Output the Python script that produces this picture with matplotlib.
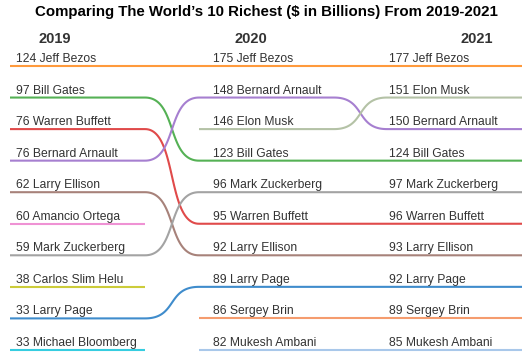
import matplotlib
matplotlib.use("Agg")
import matplotlib.pyplot as plt
import numpy as np

years = ["2019", "2020", "2021"]
names_2019 = ["Jeff Bezos", "Bill Gates", "Warren Buffett", "Bernard Arnault", "Larry Ellison",
              "Amancio Ortega", "Mark Zuckerberg", "Carlos Slim Helu", "Larry Page", "Michael Bloomberg"]
worth_2019 = [124, 97, 76, 76, 62, 60, 59, 38, 33, 33]
names_2020 = ["Jeff Bezos", "Bernard Arnault", "Elon Musk", "Bill Gates", "Mark Zuckerberg",
              "Warren Buffett", "Larry Ellison", "Larry Page", "Sergey Brin", "Mukesh Ambani"]
worth_2020 = [175, 148, 146, 123, 96, 95, 92, 89, 86, 82]
names_2021 = ["Jeff Bezos", "Elon Musk", "Bernard Arnault", "Bill Gates", "Mark Zuckerberg",
              "Warren Buffett", "Larry Ellison", "Larry Page", "Sergey Brin", "Mukesh Ambani"]
worth_2021 = [177, 151, 150, 124, 97, 96, 93, 92, 89, 85]

colors = {
    "Jeff Bezos": "#ff9a3c",
    "Bill Gates": "#55b155",
    "Warren Buffett": "#e04a4a",
    "Bernard Arnault": "#a67fd0",
    "Larry Ellison": "#a7827a",
    "Amancio Ortega": "#ef92d4",
    "Mark Zuckerberg": "#a3a3a3",
    "Carlos Slim Helu": "#cccc3a",
    "Larry Page": "#3f8ccc",
    "Michael Bloomberg": "#36cde0",
    "Elon Musk": "#b4c2a6",
    "Sergey Brin": "#f59c6e",
    "Mukesh Ambani": "#a9c8ea",
}

all_names = [names_2019, names_2020, names_2021]
all_worth = [worth_2019, worth_2020, worth_2021]

# layout (pixels)
W, H = 532, 355
col_x0 = [10, 199, 387]
seg_w = 135
label_x = [16, 213, 389]
year_x = [55, 251, 477]
row0, row_step = 66, 31.55

plt.rcParams["font.family"] = ["Liberation Sans", "DejaVu Sans"]
fig = plt.figure(figsize=(W / 100, H / 100), dpi=100)
ax = fig.add_axes([0, 0, 1, 1])
ax.set_xlim(0, W)
ax.set_ylim((H - row0) / row_step, -row0 / row_step)
ax.axis("off")


def bezier(xa, ya, xb, yb, k=0.6, n=60):
    t = np.linspace(0, 1, n)
    d = xb - xa
    px = [xa, xa + d * k, xb - d * k, xb]
    py = [ya, ya, yb, yb]
    b = [(1 - t) ** 3, 3 * (1 - t) ** 2 * t, 3 * (1 - t) * t ** 2, t ** 3]
    return sum(b[i] * px[i] for i in range(4)), sum(b[i] * py[i] for i in range(4))


people = []
for nm in all_names:
    for p in nm:
        if p not in people:
            people.append(p)

for p in people:
    xs, ys = [], []
    prev = None
    for c in range(3):
        if p in all_names[c]:
            r = all_names[c].index(p)
            if prev is not None and prev[0] == c - 1:
                bx, by = bezier(col_x0[c - 1] + seg_w, prev[1], col_x0[c], r)
                xs += list(bx)
                ys += list(by)
            elif xs:
                ax.plot(xs, ys, color=colors[p], lw=1.5, solid_capstyle="butt")
                xs, ys = [], []
            xs += [col_x0[c], col_x0[c] + seg_w]
            ys += [r, r]
            prev = (c, r)
    if xs:
        ax.plot(xs, ys, color=colors[p], lw=1.5, solid_capstyle="butt")

for c in range(3):
    for r, (p, w) in enumerate(zip(all_names[c], all_worth[c])):
        ax.text(label_x[c], r - 4 / row_step, f"{w} {p}", fontsize=8.7, color="#333333",
                ha="left", va="baseline")
    fig.text(year_x[c] / W, 1 - 39 / H, years[c], fontsize=10.5, fontweight="bold",
             color="#333333", ha="center", va="center")

fig.text(266 / W, 1 - 12 / H, "Comparing The World\u2019s 10 Richest ($ in Billions) From 2019-2021",
         fontsize=10.8, fontweight="bold", color="black", ha="center", va="center")

fig.savefig("out.png", dpi=100)
